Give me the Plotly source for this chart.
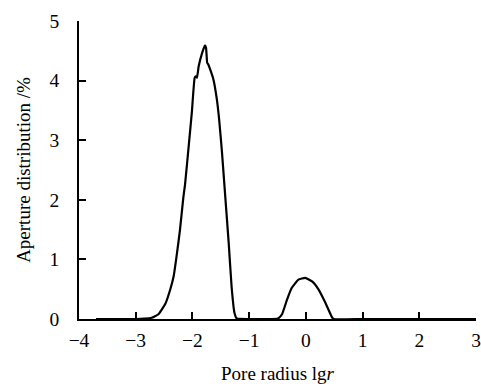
import plotly.graph_objects as go

# Pore radius (lg r) and aperture distribution (%)
pore_radius_lgr = [-3.70, -3.30, -3.01, -2.85, -2.72, -2.60, -2.48, -2.39, -2.33, -2.28, -2.22,
                   -2.16, -2.13, -2.07, -2.01, -1.96, -1.94, -1.92, -1.89, -1.83, -1.78,
                   -1.76, -1.74, -1.72, -1.70, -1.63, -1.57, -1.53, -1.48, -1.42,
                   -1.36, -1.31, -1.26, -1.22, -1.00, -0.70, -0.49, -0.42, -0.33,
                   -0.25, -0.13, -0.01, 0.11, 0.22, 0.34, 0.46, 0.49, 1.00, 2.00, 3.00]
aperture_distribution = [0.00, 0.00, 0.00, 0.005, 0.02, 0.08, 0.25, 0.50, 0.72, 1.05, 1.49,
                         2.04, 2.26, 2.86, 3.47, 4.05, 4.07, 4.05, 4.24, 4.46, 4.59,
                         4.55, 4.30, 4.27, 4.22, 4.02, 3.69, 3.36, 2.81, 2.04,
                         1.27, 0.55, 0.11, 0.01, 0.00, 0.00, 0.01, 0.08, 0.33,
                         0.52, 0.66, 0.69, 0.63, 0.50, 0.28, 0.03, 0.00, 0.00, 0.00, 0.00]

x_ticks = [-4, -3, -2, -1, 0, 1, 2, 3]
x_tick_labels = ["\u22124", "\u22123", "\u22122", "\u22121", "0", "1", "2", "3"]
y_ticks = [0, 1, 2, 3, 4, 5]
y_tick_labels = ["0", "1", "2", "3", "4", "5"]

fig = go.Figure()
fig.add_trace(go.Scatter(
    x=pore_radius_lgr, y=aperture_distribution, mode="lines",
    line=dict(color="black", width=2.2, shape="spline", smoothing=0.4),
    showlegend=False, hoverinfo="skip"))

font_family = "Liberation Serif, Times New Roman, serif"
fig.update_layout(
    width=488, height=388,
    margin=dict(l=79, r=7, t=21, b=65),
    paper_bgcolor="white", plot_bgcolor="white",
    font=dict(family=font_family, size=19.5, color="black"),
    xaxis=dict(
        range=[-4, 3], tickmode="array", tickvals=x_ticks, ticktext=x_tick_labels,
        ticks="inside", ticklen=7, tickwidth=1.5, tickcolor="black",
        showline=True, linecolor="black", linewidth=1.8,
        showgrid=False, zeroline=False, ticklabelstandoff=3,
        ticklabeloverflow="allow",
        tickfont=dict(size=19.5),
        title=dict(text="Pore radius lg<i>r</i>", font=dict(size=19), standoff=16),
    ),
    yaxis=dict(
        range=[0, 5], tickmode="array", tickvals=y_ticks, ticktext=y_tick_labels,
        ticks="inside", ticklen=7, tickwidth=1.5, tickcolor="black",
        showline=True, linecolor="black", linewidth=1.8,
        showgrid=False, zeroline=False, ticklabelstandoff=14,
        ticklabeloverflow="allow",
        tickfont=dict(size=19.5),
        title=dict(text="Aperture distribution /%", font=dict(size=19), standoff=14),
    ),
)

# pin the figure to the window's top-left corner so the page is exactly the window size
page_fix = (
    "document.documentElement.style.overflow='hidden';"
    "document.body.style.margin='0';"
    "document.body.style.overflow='hidden';"
    "var d=document.querySelector('.plotly-graph-div');"
    "d.style.position='fixed';d.style.left='0px';d.style.top='0px';"
)
fig.write_html("out.html", config=dict(displayModeBar=False), post_script=page_fix)
